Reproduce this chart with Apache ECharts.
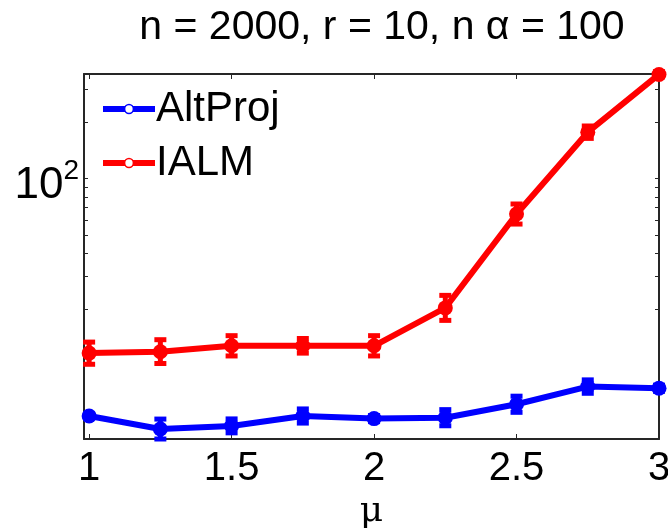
<!DOCTYPE html>
<html>
<head>
<meta charset="utf-8">
<script src="https://cdn.jsdelivr.net/npm/echarts@6/dist/echarts.min.js"></script>
<style>
  html, body { margin: 0; padding: 0; background: #fff; }
  #chart { width: 668px; height: 529px; }
</style>
</head>
<body>
<div id="chart"></div>
<script>
// mu values on the x axis
const mu = [1, 1.25, 1.5, 1.75, 2, 2.25, 2.5, 2.75, 3]

// AltProj (blue) mean and error-bar ends
const altProj = [5.40, 4.60, 4.78, 5.40, 5.23, 5.29, 6.24, 7.75, 7.60]
const altProjLow = [5.27, 4.07, 4.39, 4.95, 5.04, 4.79, 5.65, 7.14, 7.32]
const altProjHigh = [5.54, 5.20, 5.21, 5.89, 5.43, 5.84, 6.89, 8.42, 7.89]

// IALM (red) mean and error-bar ends
const ialm = [11.7, 11.9, 12.8, 12.8, 12.8, 20.4, 64.7, 177, 360]
const ialmLow = [10.2, 10.3, 11.3, 11.7, 11.3, 17.5, 57.2, 164, 350]
const ialmHigh = [13.4, 13.8, 14.5, 14.0, 14.5, 23.8, 73.2, 191, 372]

// ticks
const xTicks = [1, 1.5, 2, 2.5, 3]
const yTicks = [20, 30, 40, 50, 60, 70, 80, 90, 100, 200, 300]
const yLabels = [100]

const FONT = 'Liberation Sans, Arial, Helvetica, sans-serif'
const BLUE = '#0000ff'
const RED = '#ff0000'

// error bars through the axes
const errorBar = (name, color, low, high) => ({
  name: name,
  type: 'custom',
  clip: false,
  z: 3,
  data: mu.map((m, i) => [m, low[i], high[i]]),
  renderItem: (params, api) => {
    const lo = api.coord([api.value(0), api.value(1)])
    const hi = api.coord([api.value(0), api.value(2)])
    const hw = 6
    const style = { stroke: color, lineWidth: 5 }
    return {
      type: 'group',
      children: [
        { type: 'line', shape: { x1: lo[0], y1: lo[1], x2: hi[0], y2: hi[1] }, style },
        { type: 'line', shape: { x1: lo[0] - hw, y1: lo[1], x2: lo[0] + hw, y2: lo[1] }, style },
        { type: 'line', shape: { x1: hi[0] - hw, y1: hi[1], x2: hi[0] + hw, y2: hi[1] }, style }
      ]
    }
  }
})

const lineSeries = (name, color, values) => ({
  name: name,
  type: 'line',
  clip: false,
  z: 4,
  data: mu.map((m, i) => [m, values[i]]),
  symbol: 'circle',
  symbolSize: 15,
  lineStyle: { color: color, width: 6 },
  itemStyle: { color: color }
})

const yAxisBase = {
  type: 'log',
  min: 4.07,
  max: 362,
  splitLine: { show: false },
  axisLine: { show: true, lineStyle: { color: '#262626', width: 2 } },
  axisTick: { inside: true, length: 4, customValues: yTicks, lineStyle: { color: '#262626', width: 1 } }
}

const xAxisBase = {
  type: 'value',
  min: 0.982,
  max: 3,
  splitLine: { show: false },
  axisLine: { show: true, onZero: false, lineStyle: { color: '#262626', width: 2 } },
  axisTick: { inside: true, length: 5, customValues: xTicks, lineStyle: { color: '#262626', width: 1 } }
}

const chart = echarts.init(document.getElementById('chart'))

chart.setOption({
  animation: false,
  textStyle: { fontFamily: FONT },
  title: {
    text: 'n = 2000, r = 10, n α = 100',
    left: 377,
    textAlign: 'center',
    top: 2,
    textStyle: { fontFamily: FONT, fontSize: 41, fontWeight: 'normal', color: '#000' }
  },
  legend: {
    left: 100,
    top: 88,
    orient: 'vertical',
    itemGap: 12,
    itemWidth: 52,
    itemHeight: 11,
    padding: 0,
    data: [
      { name: 'AltProj', itemStyle: { color: '#fff', borderColor: BLUE, borderWidth: 1.5 } },
      { name: 'IALM', itemStyle: { color: '#fff', borderColor: RED, borderWidth: 1.5 } }
    ],
    lineStyle: { width: 6 },
    textStyle: { fontFamily: FONT, fontSize: 42, color: '#000', padding: [0, 0, 0, -4] }
  },
  grid: { left: 84, right: 9, top: 74, bottom: 90, outerBoundsMode: 'none' },
  xAxis: [
    Object.assign({}, xAxisBase, {
      position: 'bottom',
      name: 'μ',
      nameLocation: 'middle',
      nameGap: 52,
      nameTextStyle: { fontFamily: 'DejaVu Serif, serif', fontSize: 36, color: '#000' },
      axisLabel: {
        customValues: xTicks,
        margin: 10,
        fontSize: 40,
        color: '#000',
        fontFamily: FONT,
        formatter: v => String(v)
      }
    }),
    Object.assign({}, xAxisBase, { position: 'top', axisLabel: { show: false } })
  ],
  yAxis: [
    Object.assign({}, yAxisBase, {
      position: 'left',
      axisLabel: {
        customValues: yLabels,
        margin: 5,
        color: '#000',
        formatter: () => '{b|10}{s|2}',
        rich: {
          b: { fontSize: 44, fontFamily: FONT, color: '#000', padding: [14, 0, 0, 0] },
          s: { fontSize: 28, fontFamily: FONT, color: '#000', padding: [0, 0, 14, 0] }
        }
      }
    }),
    Object.assign({}, yAxisBase, { position: 'right', axisLabel: { show: false } })
  ],
  series: [
    lineSeries('AltProj', BLUE, altProj),
    lineSeries('IALM', RED, ialm),
    errorBar('AltProj', BLUE, altProjLow, altProjHigh),
    errorBar('IALM', RED, ialmLow, ialmHigh)
  ]
})
</script>
</body>
</html>
